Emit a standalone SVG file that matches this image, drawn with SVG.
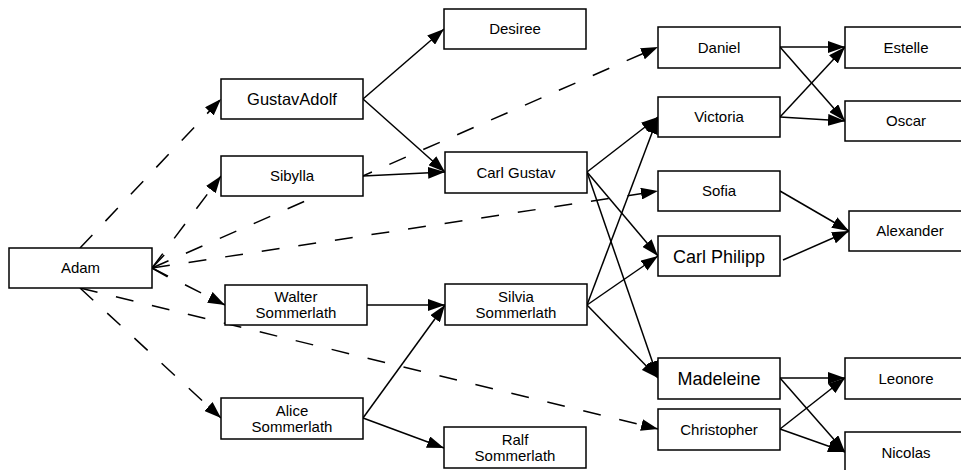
<svg xmlns="http://www.w3.org/2000/svg" width="961" height="470" viewBox="0 0 961 470">
<style>
.box{fill:#fff;stroke:#000;stroke-width:1.5}
.lbl{font-family:"Liberation Sans",Arial,sans-serif;font-size:15px;text-anchor:middle;fill:#000}
.big{font-size:18px}
.mid{font-size:16.5px}
.e{stroke:#000;stroke-width:1.5;fill:none;marker-end:url(#arr)}
.d{stroke-dasharray:18 19}
</style>
<defs>
<marker id="arr" viewBox="0 0 17 12" refX="17" refY="6" markerWidth="17" markerHeight="12" markerUnits="userSpaceOnUse" orient="auto">
<path d="M0,0 L17,6 L0,12 z" fill="#000"/>
</marker>
<marker id="open" viewBox="0 0 18 24" refX="16" refY="12" markerWidth="18" markerHeight="24" markerUnits="userSpaceOnUse" orient="auto-start-reverse">
<path d="M2,1 L16,12 L2,23" fill="none" stroke="#000" stroke-width="1.5"/>
</marker>
</defs>
<rect width="961" height="470" fill="#fff"/>
<g id="connectors">
<path class="e d" d="M80,248 L221,99"/>
<path class="e d" d="M152,268 L221,176"/>
<path class="e d" d="M152,268 L225,305"/>
<path class="e d" d="M80,288 L221,418"/>
<path class="e d" d="M152,268 L658,47"/>
<path class="e d" d="M152,268 L658,191" marker-start="url(#open)"/>
<path class="e d" d="M80,288 L658,429"/>
<path class="e" d="M363,99 L444,29"/>
<path class="e" d="M363,99 L445,172"/>
<path class="e" d="M363,176 L445,172"/>
<path class="e" d="M367,305 L445,305"/>
<path class="e" d="M363,418 L445,305"/>
<path class="e" d="M363,418 L444,448"/>
<path class="e" d="M587,172 L658,117"/>
<path class="e" d="M587,172 L658,256"/>
<path class="e" d="M587,172 L658,378"/>
<path class="e" d="M587,305 L658,117"/>
<path class="e" d="M587,305 L658,256"/>
<path class="e" d="M587,305 L658,378"/>
<path class="e" d="M780,47 L845,47"/>
<path class="e" d="M780,47 L845,121"/>
<path class="e" d="M780,117 L845,47"/>
<path class="e" d="M780,117 L845,121"/>
<path class="e" d="M780,191 L849,231"/>
<path class="e" d="M783,260 L849,231"/>
<path class="e" d="M780,378 L845,378"/>
<path class="e" d="M780,378 L845,452"/>
<path class="e" d="M780,429 L845,378"/>
<path class="e" d="M780,429 L845,452"/>
</g>
<g id="adam"><rect class="box" x="9" y="248" width="143" height="40"/><text class="lbl" x="80.5" y="273">Adam</text></g>
<g id="gustavadolf"><rect class="box" x="221" y="79" width="142" height="40"/><text class="lbl mid" x="292" y="105">GustavAdolf</text></g>
<g id="sibylla"><rect class="box" x="221" y="156" width="142" height="40"/><text class="lbl" x="292" y="181">Sibylla</text></g>
<g id="walter"><rect class="box" x="225" y="285" width="142" height="40"/><text class="lbl" x="296" y="302">Walter</text><text class="lbl" x="296" y="318">Sommerlath</text></g>
<g id="alice"><rect class="box" x="221" y="398" width="142" height="41"/><text class="lbl" x="292" y="415.5">Alice</text><text class="lbl" x="292" y="431.5">Sommerlath</text></g>
<g id="desiree"><rect class="box" x="444" y="9" width="142" height="40"/><text class="lbl" x="515" y="34">Desiree</text></g>
<g id="carlgustav"><rect class="box" x="445" y="152" width="142" height="41"/><text class="lbl" x="516" y="177.5">Carl Gustav</text></g>
<g id="silvia"><rect class="box" x="445" y="284" width="142" height="41"/><text class="lbl" x="516" y="301.5">Silvia</text><text class="lbl" x="516" y="317.5">Sommerlath</text></g>
<g id="ralf"><rect class="box" x="444" y="427" width="142" height="41"/><text class="lbl" x="515" y="444.5">Ralf</text><text class="lbl" x="515" y="460.5">Sommerlath</text></g>
<g id="daniel"><rect class="box" x="658" y="27" width="122" height="41"/><text class="lbl" x="719" y="52.5">Daniel</text></g>
<g id="victoria"><rect class="box" x="658" y="97" width="122" height="40"/><text class="lbl" x="719" y="122">Victoria</text></g>
<g id="sofia"><rect class="box" x="658" y="171" width="122" height="40"/><text class="lbl" x="719" y="196">Sofia</text></g>
<g id="carlphilipp"><rect class="box" x="658" y="236" width="122" height="40"/><text class="lbl big" x="719" y="262.5">Carl Philipp</text></g>
<g id="madeleine"><rect class="box" x="658" y="358" width="122" height="41"/><text class="lbl big" x="719" y="384.5">Madeleine</text></g>
<g id="christopher"><rect class="box" x="658" y="409" width="122" height="41"/><text class="lbl" x="719" y="434.5">Christopher</text></g>
<g id="estelle"><rect class="box" x="845" y="27" width="122" height="41"/><text class="lbl" x="906" y="52.5">Estelle</text></g>
<g id="oscar"><rect class="box" x="845" y="101" width="122" height="40"/><text class="lbl" x="906" y="126">Oscar</text></g>
<g id="alexander"><rect class="box" x="849" y="211" width="122" height="40"/><text class="lbl" x="910" y="236">Alexander</text></g>
<g id="leonore"><rect class="box" x="845" y="358" width="122" height="41"/><text class="lbl" x="906" y="383.5">Leonore</text></g>
<g id="nicolas"><rect class="box" x="845" y="432" width="122" height="41"/><text class="lbl" x="906" y="457.5">Nicolas</text></g>
</svg>
